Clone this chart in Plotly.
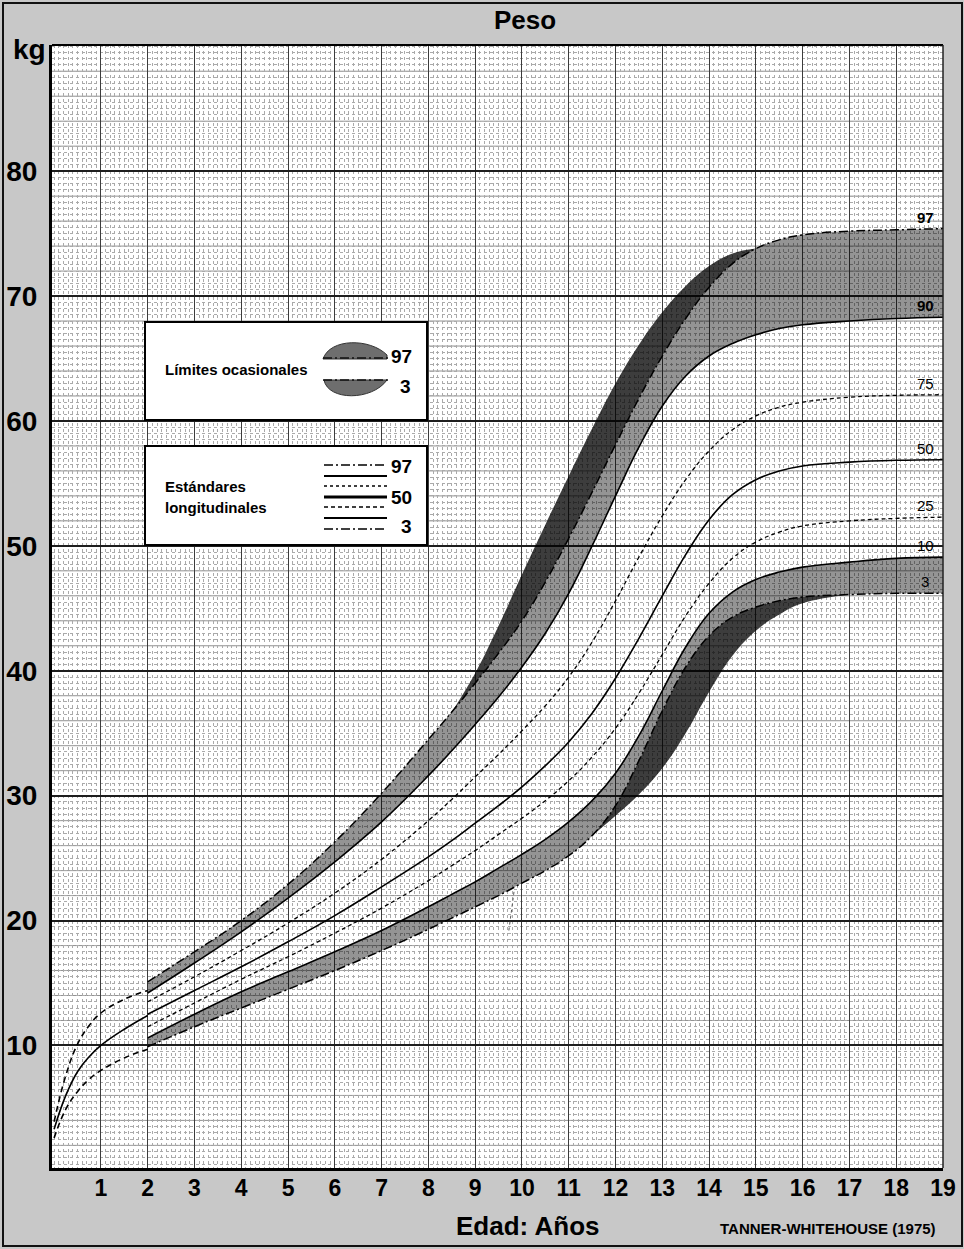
import plotly.graph_objects as go

# ---------------- data ----------------
# infant section, 0-2 years
INF_AGES = [0, 0.25, 0.5, 0.75, 1, 1.5, 2]
INF_97 = [3.9, 7.6, 10.1, 11.6, 12.6, 13.7, 14.4]
INF_50 = [3.3, 6.0, 7.9, 9.1, 10.0, 11.3, 12.4]
INF_3 = [2.6, 4.9, 6.3, 7.3, 8.0, 9.0, 9.7]

# 2-19 years longitudinal standards
AGES = [2, 3, 4, 5, 6, 7, 8, 8.5, 9, 9.5, 10, 10.5, 11, 11.5, 12, 12.5, 13, 13.5,
        14, 14.5, 15, 15.5, 16, 17, 18, 19]
P97 = [15.1, 17.5, 20.0, 22.9, 26.3, 30.2, 34.5, 36.7, 39.0, 41.4, 44.0, 47.1, 50.6,
       54.3, 58.1, 61.8, 65.2, 68.2, 70.7, 72.6, 73.8, 74.5, 74.9, 75.2, 75.3, 75.4]
P90 = [14.2, 16.6, 19.1, 21.8, 24.7, 27.9, 31.6, 33.6, 35.7, 37.9, 40.3, 43.0, 46.2,
       50.0, 54.0, 57.9, 61.2, 63.6, 65.2, 66.2, 66.9, 67.4, 67.7, 68.0, 68.2, 68.3]
P75 = [13.5, 15.5, 17.6, 19.8, 22.2, 24.9, 28.0, 29.7, 31.5, 33.3, 35.2, 37.2, 39.5,
       42.3, 45.6, 49.1, 52.4, 55.3, 57.6, 59.3, 60.4, 61.1, 61.5, 61.9, 62.05, 62.1]
P50 = [12.5, 14.4, 16.3, 18.3, 20.4, 22.7, 25.1, 26.4, 27.8, 29.2, 30.7, 32.4, 34.3,
       36.6, 39.4, 42.6, 46.0, 49.3, 52.1, 54.1, 55.3, 56.0, 56.4, 56.7, 56.85, 56.9]
P25 = [11.5, 13.4, 15.3, 17.1, 19.0, 21.0, 23.2, 24.4, 25.6, 26.9, 28.2, 29.6, 31.2,
       33.1, 35.4, 38.2, 41.3, 44.4, 47.0, 49.0, 50.3, 51.1, 51.6, 52.0, 52.2, 52.3]
P10 = [10.6, 12.5, 14.3, 15.9, 17.5, 19.2, 21.1, 22.1, 23.1, 24.2, 25.3, 26.5, 27.9,
       29.6, 31.8, 34.8, 38.4, 41.9, 44.6, 46.3, 47.3, 47.9, 48.3, 48.7, 49.0, 49.1]
P3 = [9.9, 11.5, 13.0, 14.5, 16.0, 17.6, 19.3, 20.2, 21.1, 22.0, 23.0, 24.0, 25.2,
      26.8, 29.2, 32.8, 36.8, 40.3, 42.8, 44.3, 45.1, 45.6, 45.9, 46.1, 46.2, 46.2]

# occasional limits (early / late maturers)
UL_AGES = [8.5, 9, 9.5, 10, 10.5, 11, 11.5, 12, 12.5, 13, 13.5, 14, 14.5, 15]
UL = [36.7, 39.8, 43.6, 47.7, 51.7, 55.6, 59.4, 63.0, 66.1, 68.7, 70.8, 72.4, 73.4, 73.8]
LL_AGES = [11.5, 12, 12.5, 13, 13.5, 14, 14.5, 15, 15.5, 16, 17]
LL = [26.8, 28.4, 30.1, 32.2, 35.0, 38.3, 41.2, 43.2, 44.5, 45.4, 46.1]

# small stray pen mark visible on the original sheet
MARK_AGES = [9.83, 9.72]
MARK_KG = [22.3, 19.2]

X_TICKS = list(range(1, 20))
Y_TICKS = [10, 20, 30, 40, 50, 60, 70, 80]
RIGHT_LABELS = [("97", P97, True), ("90", P90, True), ("75", P75, False), ("50", P50, False),
                ("25", P25, False), ("10", P10, False), ("3", P3, False)]

# ---------------- helpers ----------------
L, R, T, B = 52, 943, 45, 1168
W, H = 964, 1249


def px(x):
    return (x - L) / (R - L)


def py(y):
    return (B - y) / (B - T)


def sub(ages, vals, keep):
    d = dict(zip(ages, vals))
    return [d[a] for a in keep]


FONT = "Liberation Sans, Arial, sans-serif"
NARROW = "Liberation Sans Narrow, Arial Narrow, Liberation Sans, Arial, sans-serif"
DASHDOT = "9px,3px,2px,3px"
SHORTDASH = "4px,3px"
MED = "rgba(0,0,0,0.42)"
DARK = "rgba(0,0,0,0.76)"
SM = 1.2

fig = go.Figure()


def band(xs, lower, upper, color):
    fig.add_trace(go.Scatter(x=xs, y=lower, mode="lines", line=dict(width=0, shape="spline", smoothing=SM),
                             hoverinfo="skip"))
    fig.add_trace(go.Scatter(x=xs, y=upper, mode="lines", fill="tonexty", fillcolor=color,
                             line=dict(width=0, shape="spline", smoothing=SM), hoverinfo="skip"))


band(AGES, P90, P97, MED)
band(UL_AGES, sub(AGES, P97, UL_AGES), UL, DARK)
band(AGES, P3, P10, MED)
band(LL_AGES, LL, sub(AGES, P3, LL_AGES), DARK)


def line(xs, ys, dash, width=1.5, color="black"):
    fig.add_trace(go.Scatter(x=xs, y=ys, mode="lines",
                             line=dict(color=color, width=width, dash=dash, shape="spline", smoothing=SM),
                             hoverinfo="skip"))


line(INF_AGES, INF_97, "6px,4px", 1.6)
line(INF_AGES, INF_50, "solid", 1.6)
line(INF_AGES, INF_3, "6px,4px", 1.6)

line(AGES, P97, DASHDOT, 1.5)
line(AGES, P90, "solid", 1.6)
line(AGES, P75, SHORTDASH, 1.3)
line(AGES, P50, "solid", 1.6)
line(AGES, P25, SHORTDASH, 1.3)
line(AGES, P10, "solid", 1.6)
line(AGES, P3, DASHDOT, 1.5)
line(MARK_AGES, MARK_KG, "3px,3px", 1.0, "#555")

# ---------------- shapes ----------------
shapes = []
# medium 2 kg graph-paper lines
for k in range(2, 90, 2):
    if k % 10:
        shapes.append(dict(type="line", xref="paper", x0=0, x1=1, yref="y", y0=k, y1=k,
                           line=dict(color="#767676", width=0.8), layer="between"))
# top and right frame lines
shapes.append(dict(type="line", xref="paper", yref="paper", x0=0, x1=1, y0=1, y1=1,
                   line=dict(color="black", width=2), layer="above"))
shapes.append(dict(type="line", xref="paper", yref="paper", x0=1, x1=1, y0=0, y1=1,
                   line=dict(color="#222", width=1.5), layer="above"))
# outer picture frame
shapes.append(dict(type="rect", xref="paper", yref="paper", x0=px(3), x1=px(962), y0=py(3), y1=py(1246),
                   line=dict(color="#111", width=2), layer="above"))

# legend boxes
for (top, bot) in [(322, 420), (446, 545)]:
    shapes.append(dict(type="rect", xref="paper", yref="paper", x0=px(145), x1=px(427), y0=py(top), y1=py(bot),
                       fillcolor="white", line=dict(color="black", width=2), layer="above"))


def path(pts):
    s = ""
    for cmd, coords in pts:
        s += cmd
        s += " ".join(f"{px(a):.5f},{py(b):.5f}" for a, b in coords) + " "
    return s + "Z"


# lens symbols (occasional limits)
shapes.append(dict(type="path", xref="paper", yref="paper", layer="above",
                   path=path([("M", [(323, 359)]), ("C", [(330, 338), (370, 338), (387, 355)]), ("L", [(387, 359)])]),
                   fillcolor="#6e6e6e", line=dict(color="#333", width=1)))
shapes.append(dict(type="path", xref="paper", yref="paper", layer="above",
                   path=path([("M", [(324, 380)]), ("C", [(328, 401), (372, 401), (387, 380)]), ("L", [(324, 380)])]),
                   fillcolor="#6e6e6e", line=dict(color="#333", width=1)))
for yy in (358, 380):
    shapes.append(dict(type="line", xref="paper", yref="paper", x0=px(323), x1=px(388), y0=py(yy), y1=py(yy),
                       line=dict(color="#111", width=1.5, dash=DASHDOT), layer="above"))

# legend line samples
samples = [(465, DASHDOT, 1.6), (476, "solid", 1.8), (486, "3px,3px", 1.6), (497, "solid", 3),
           (507, "4px,3px", 1.6), (518, "solid", 1.8), (529, DASHDOT, 1.6)]
for yy, dash, wd in samples:
    shapes.append(dict(type="line", xref="paper", yref="paper", x0=px(324), x1=px(387), y0=py(yy), y1=py(yy),
                       line=dict(color="black", width=wd, dash=dash), layer="above"))

# ---------------- annotations ----------------
ann = []


def text(x, y, s, size, bold=True, family=FONT, anchor="center"):
    ann.append(dict(xref="paper", yref="paper", x=px(x), y=py(y), text=s, showarrow=False,
                    xanchor=anchor, yanchor="middle",
                    font=dict(family=family, size=size, color="black", weight="bold" if bold else "normal")))


text(525, 20, "Peso", 26)
text(29, 50, "kg", 28)
text(527, 1226, "Edad: Años", 26, family=NARROW)
text(828, 1228, "TANNER-WHITEHOUSE (1975)", 15, family=NARROW)
text(163, 370, "Límites ocasionales", 15, anchor="left")
text(163, 486, "Estándares", 15, anchor="left")
text(163, 507, "longitudinales", 15, anchor="left")
text(401, 357, "97", 19)
text(405, 386, "3", 19)
text(401, 467, "97", 19)
text(401, 497, "50", 19)
text(406, 526, "3", 19)

for lab, arr, bold in RIGHT_LABELS:
    ann.append(dict(x=18.62, y=arr[-1], xref="x", yref="y", text=lab, showarrow=False,
                    xanchor="center", yanchor="bottom", yshift=1,
                    font=dict(family=NARROW, size=15, color="black", weight="bold" if bold else "normal")))

fig.update_layout(
    width=W, height=H, autosize=False,
    margin=dict(l=L, r=W - R, t=T, b=H - B, pad=0, autoexpand=False),
    paper_bgcolor="#c8c8c8", plot_bgcolor="white",
    showlegend=False,
    shapes=shapes, annotations=ann,
    xaxis=dict(range=[-0.045, 19.0], tickvals=X_TICKS, ticktext=[str(t) for t in X_TICKS],
               tickfont=dict(family=NARROW, size=23, color="black", weight="bold"),
               ticks="", ticklabelstandoff=-3, automargin=False,
               showgrid=True, gridcolor="#3c3c3c", gridwidth=1.1, zeroline=False,
               showline=True, linecolor="black", linewidth=3,
               minor=dict(dtick=0.1, tick0=0, showgrid=True, gridcolor="#aaaaaa", griddash="dot", gridwidth=0.7)),
    yaxis=dict(range=[0.19, 90.1], tickvals=Y_TICKS, ticktext=[str(t) for t in Y_TICKS],
               tickfont=dict(family=FONT, size=28, color="black", weight="bold"),
               ticks="", ticklabelstandoff=6, automargin=False,
               showgrid=True, gridcolor="#1e1e1e", gridwidth=1.5, zeroline=False,
               showline=True, linecolor="black", linewidth=3,
               minor=dict(dtick=0.5, tick0=0, showgrid=True, gridcolor="#aaaaaa", griddash="dot", gridwidth=0.7)),
)

fig.write_html("out.html")
